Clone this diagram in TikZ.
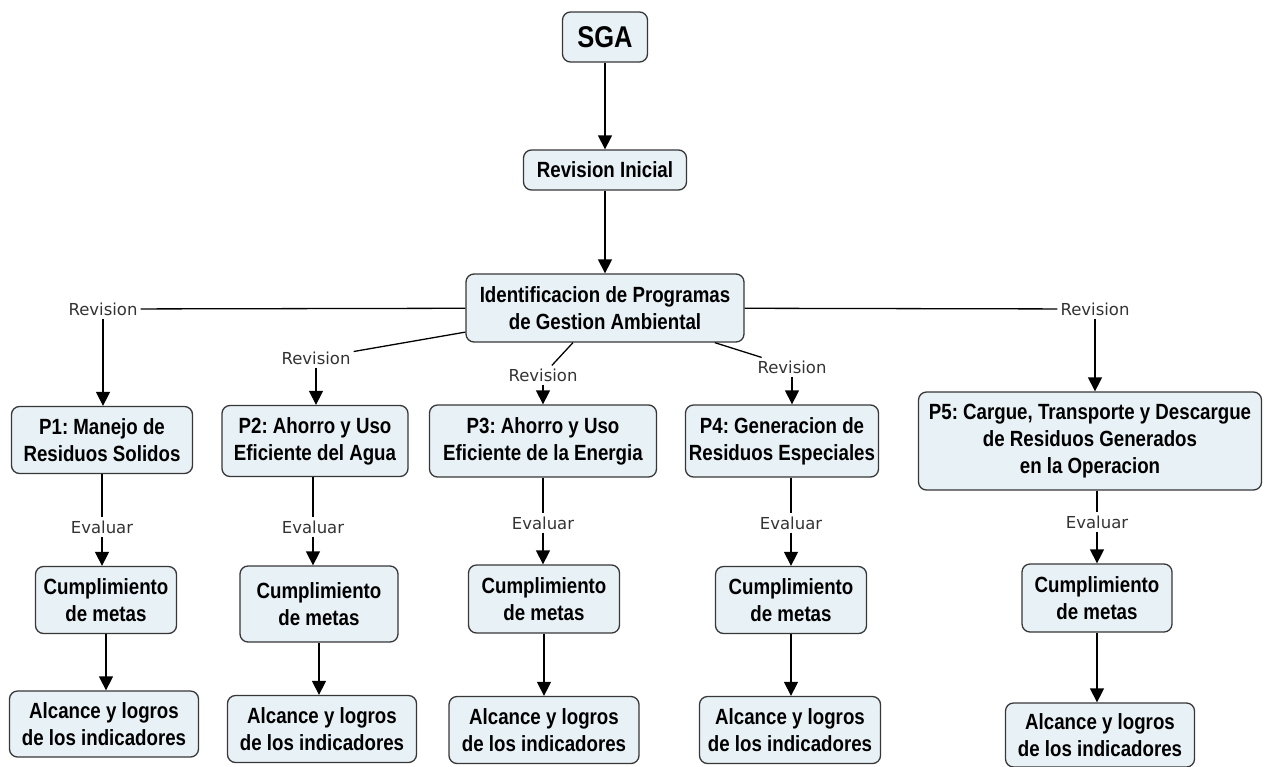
\documentclass[tikz,border=0pt]{standalone}
\usepackage{fontspec}
\usetikzlibrary{arrows.meta}
\newfontfamily\cajafont[FakeStretch=0.85]{Liberation Sans}
\newfontfamily\etiqfont{DejaVu Sans}
\definecolor{cajafondo}{RGB}{232,241,245}
\definecolor{cajaborde}{RGB}{55,55,55}
\frenchspacing

\begin{document}
\begin{tikzpicture}[x=1pt,y=-1pt,
    caja/.style={draw=cajaborde,fill=cajafondo,rounded corners=8pt,line width=1.3pt,
      align=center,inner sep=2pt,font=\cajafont\bfseries\fontsize{22}{27}\selectfont},
    etiq/.style={inner sep=3pt,text=black!80,font=\etiqfont\fontsize{16.5}{18}\selectfont},
    linea/.style={line width=1.3pt},
    flecha/.style={linea,-{Triangle[width=14pt,length=14pt]}}]
      \useasboundingbox (0,0) rectangle (1265,766);

      \node[caja,minimum width=85pt,minimum height=50pt,
        font=\cajafont\bfseries\fontsize{30}{32}\selectfont] (sga) at (605,37) {SGA};
      \node[caja,minimum width=163pt,minimum height=40pt] (revini) at (605,170) {Revision Inicial};
      \node[caja,minimum width=278pt,minimum height=68pt] (ident) at (605,308)
        {Identificacion de Programas\\de Gestion Ambiental};

      \node[caja,minimum width=181pt,minimum height=67pt] (p1) at (102,440) {P1: Manejo de\\Residuos Solidos};
      \node[caja,minimum width=186pt,minimum height=71pt] (p2) at (315,441) {P2: Ahorro y Uso\\Eficiente del Agua};
      \node[caja,minimum width=227pt,minimum height=72pt] (p3) at (543,441) {P3: Ahorro y Uso\\Eficiente de la Energia};
      \node[caja,minimum width=193pt,minimum height=72pt] (p4) at (782,441) {P4: Generacion de\\Residuos Especiales};
      \node[caja,minimum width=343pt,minimum height=98pt] (p5) at (1090,441)
        {P5: Cargue, Transporte y Descargue\\de Residuos Generados\\en la Operacion};

      \node[etiq] (rev1) at (103,309) {Revision};
      \node[etiq] (rev2) at (316,358) {Revision};
      \node[etiq] (rev3) at (543,375) {Revision};
      \node[etiq] (rev4) at (792,367) {Revision};
      \node[etiq] (rev5) at (1095,309) {Revision};

      \node[etiq] (eva1) at (102,527) {Evaluar};
      \node[etiq] (eva2) at (313,527) {Evaluar};
      \node[etiq] (eva3) at (543,523) {Evaluar};
      \node[etiq] (eva4) at (791,523) {Evaluar};
      \node[etiq] (eva5) at (1097,522) {Evaluar};

      \node[caja,minimum width=141pt,minimum height=67pt] (cum1) at (106,600) {Cumplimiento\\de metas};
      \node[caja,minimum width=158pt,minimum height=76pt] (cum2) at (319,604) {Cumplimiento\\de metas};
      \node[caja,minimum width=151pt,minimum height=68pt] (cum3) at (544,599) {Cumplimiento\\de metas};
      \node[caja,minimum width=151pt,minimum height=67pt] (cum4) at (791,600) {Cumplimiento\\de metas};
      \node[caja,minimum width=150pt,minimum height=68pt] (cum5) at (1097,598) {Cumplimiento\\de metas};

      \node[caja,minimum width=189pt,minimum height=66pt] (alc1) at (104,724) {Alcance y logros\\de los indicadores};
      \node[caja,minimum width=189pt,minimum height=67pt] (alc2) at (322,729) {Alcance y logros\\de los indicadores};
      \node[caja,minimum width=190pt,minimum height=67pt] (alc3) at (544,730) {Alcance y logros\\de los indicadores};
      \node[caja,minimum width=181pt,minimum height=67pt] (alc4) at (790,730) {Alcance y logros\\de los indicadores};
      \node[caja,minimum width=189pt,minimum height=64pt] (alc5) at (1100,735) {Alcance y logros\\de los indicadores};

      \draw[flecha] (sga) -- (revini);
      \draw[flecha] (revini) -- (ident);

      \draw[linea] (ident) -- (rev1);
      \draw[linea] (ident) -- (rev2);
      \draw[linea] (ident) -- (rev3);
      \draw[linea] (ident) -- (rev4);
      \draw[linea] (ident) -- (rev5);

      \draw[flecha] (rev1) -- (rev1 |- p1.north);
      \draw[flecha] (rev2) -- (rev2 |- p2.north);
      \draw[flecha] (rev3) -- (rev3 |- p3.north);
      \draw[flecha] (rev4) -- (rev4 |- p4.north);
      \draw[flecha] (rev5) -- (rev5 |- p5.north);

      \draw[linea] (eva1 |- p1.south) -- (eva1);
      \draw[linea] (eva2 |- p2.south) -- (eva2);
      \draw[linea] (eva3 |- p3.south) -- (eva3);
      \draw[linea] (eva4 |- p4.south) -- (eva4);
      \draw[linea] (eva5 |- p5.south) -- (eva5);

      \draw[flecha] (eva1) -- (eva1 |- cum1.north);
      \draw[flecha] (eva2) -- (eva2 |- cum2.north);
      \draw[flecha] (eva3) -- (eva3 |- cum3.north);
      \draw[flecha] (eva4) -- (eva4 |- cum4.north);
      \draw[flecha] (eva5) -- (eva5 |- cum5.north);

      \draw[flecha] (cum1) -- (cum1 |- alc1.north);
      \draw[flecha] (cum2) -- (cum2 |- alc2.north);
      \draw[flecha] (cum3) -- (cum3 |- alc3.north);
      \draw[flecha] (cum4) -- (cum4 |- alc4.north);
      \draw[flecha] (cum5) -- (cum5 |- alc5.north);
    \end{tikzpicture}
\end{document}
